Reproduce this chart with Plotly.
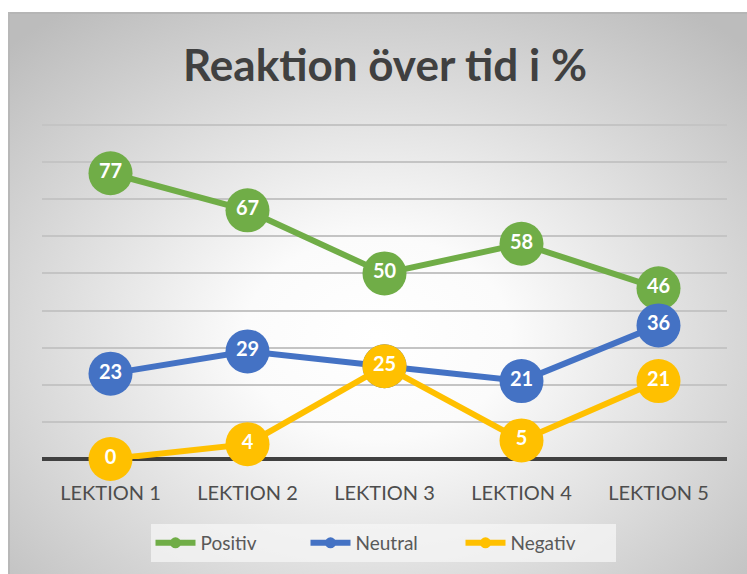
import base64
import plotly.graph_objects as go

categories = ["LEKTION 1", "LEKTION 2", "LEKTION 3", "LEKTION 4", "LEKTION 5"]
positiv = [77, 67, 50, 58, 46]
neutral = [23, 29, 25, 21, 36]
negativ = [0, 4, 25, 5, 21]

series = [
    ("Positiv", positiv, "#70AD47"),
    ("Neutral", neutral, "#4472C4"),
    ("Negativ", negativ, "#FFC000"),
]

W, H = 747, 574
L, R, T, B = 42, 20, 121, 115
pw, ph = W - L - R, H - T - B
ytop = 90 * ph / 334.0

svg = (
    "<svg xmlns='http://www.w3.org/2000/svg' width='739' height='562' viewBox='0 0 739 562' preserveAspectRatio='none'>"
    "<defs><radialGradient id='g' cx='50%' cy='58%' r='72%'>"
    "<stop offset='0' stop-color='#ffffff'/>"
    "<stop offset='0.25' stop-color='#fbfbfb'/>"
    "<stop offset='1' stop-color='#bcbcbc'/>"
    "</radialGradient></defs>"
    "<rect x='0' y='0' width='739' height='562' fill='url(#g)'/>"
    "<line x1='0' y1='1' x2='739' y2='1' stroke='#b5b5b5' stroke-width='2'/>"
    "<line x1='1' y1='0' x2='1' y2='562' stroke='#b8b8b8' stroke-width='2'/>"
    "</svg>"
)
src = "data:image/svg+xml;base64," + base64.b64encode(svg.encode()).decode()

fig = go.Figure()
for name, vals, col in series:
    fig.add_trace(go.Scatter(
        x=categories, y=vals, mode="lines+markers+text", name=name,
        line=dict(color=col, width=6),
        marker=dict(color=col, size=44, line=dict(width=0)),
        text=[str(v) for v in vals], textposition="middle center",
        textfont=dict(color="white", size=20, family="Lato", weight="bold"),
        showlegend=False, cliponaxis=False,
    ))
for name, vals, col in series:
    fig.add_trace(go.Scatter(
        x=[None], y=[None], mode="lines+markers", name=name,
        line=dict(color=col, width=6),
        marker=dict(color=col, size=11),
    ))

fig.update_layout(
    width=W, height=H,
    margin=dict(l=L, r=R, t=T, b=B),
    paper_bgcolor="white", plot_bgcolor="rgba(0,0,0,0)",
    title=dict(text="Reaktion över tid i %", x=(385) / W, xanchor="center",
               y=1 - 66 / H, yanchor="middle",
               font=dict(family="Lato", size=44, color="#404040", weight="bold")),
    font=dict(family="Lato", color="#595959"),
    legend=dict(orientation="h", x=(383 - L) / pw, xanchor="center",
                y=(H - B - 543) / ph, yanchor="middle",
                bgcolor="rgba(245,245,245,0.75)", font=dict(size=19, color="#595959"),
                itemwidth=40, entrywidth=100, entrywidthmode="pixels"),
    images=[dict(source=src, xref="paper", yref="paper",
                 x=(8 - L) / pw, y=(H - B - 12) / ph,
                 sizex=739 / pw, sizey=562 / ph,
                 xanchor="left", yanchor="top", sizing="stretch", layer="below")],
    showlegend=True,
)
fig.update_xaxes(type="category", range=[-0.5, 4.5], showgrid=False, showline=False,
                 ticks="", tickfont=dict(size=20, color="#4d4d4d"), ticklabelstandoff=20)
fig.update_yaxes(range=[0, ytop], tickvals=[10, 20, 30, 40, 50, 60, 70, 80, 90],
                 showticklabels=False, gridcolor="#c4c4c4",
                 gridwidth=1.5, zeroline=True, zerolinecolor="#404040", zerolinewidth=3.5,
                 showline=False)

fig.write_html("out.html", config={"displayModeBar": False},
               post_script="document.body.style.margin='0';document.body.style.padding='0';")
